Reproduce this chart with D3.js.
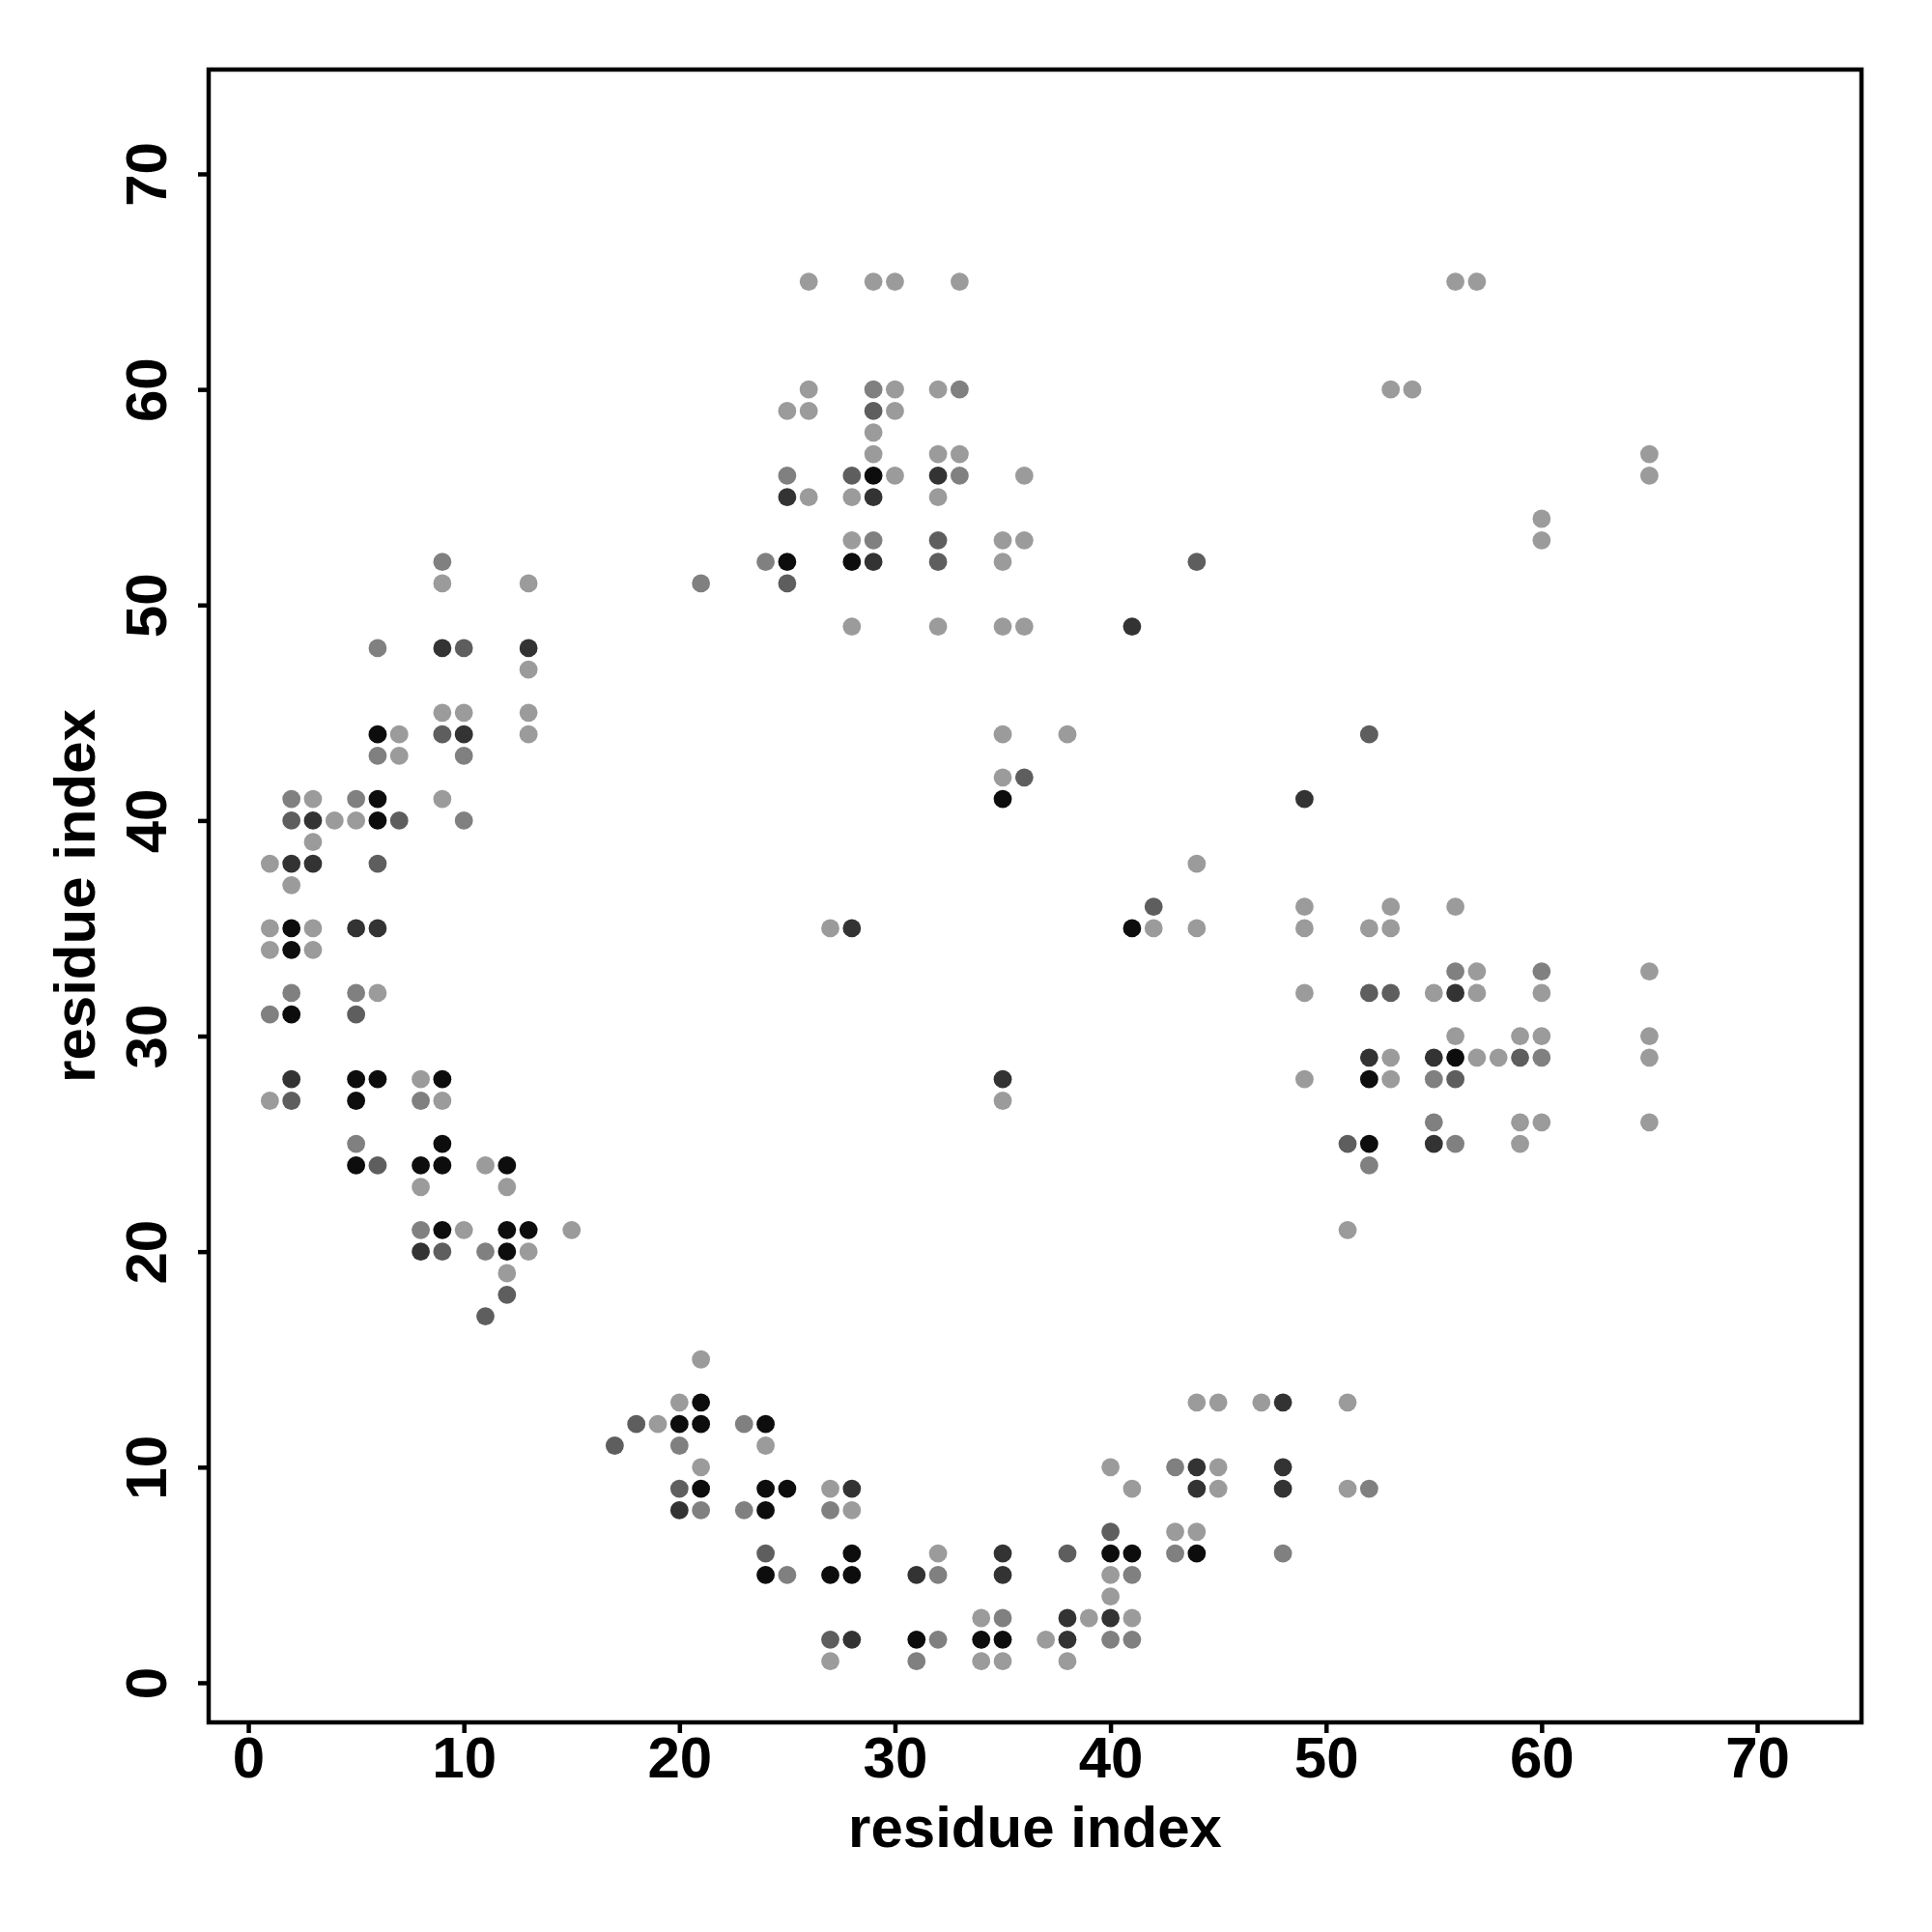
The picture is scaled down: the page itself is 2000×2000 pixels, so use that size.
<!DOCTYPE html>
<html>
<head>
<meta charset="utf-8">
<script src="https://cdn.jsdelivr.net/npm/d3@7"></script>
<style>
  body { margin: 0; background: #fff; }
  text { font-family: "Liberation Sans", Arial, Helvetica, sans-serif; font-weight: bold; }
</style>
</head>
<body>
<div id="chart"></div>
<script>
// contact pairs [i, j], grouped by shade (1 = darkest)
var level1 = [[6,44],[6,41],[6,40],[2,35],[2,34],[2,31],[5,28],[6,28],[9,28],[5,27],[9,25],[5,24],[8,24],[9,24],[12,24],[9,21],[12,21],[13,21],[12,20],
  [29,56],[25,52],[28,52],[35,41],[41,35],[56,29],[52,28],[52,25],
  [21,13],[20,12],[21,12],[24,12],[21,9],[24,9],[25,9],[24,8],[28,6],[40,6],[41,6],[44,6],[24,5],[27,5],[28,5],[31,2],[34,2],[35,2]];
var level2 = [[9,48],[13,48],[10,44],[3,40],[2,38],[3,38],[5,35],[6,35],[2,28],[8,20],
  [32,56],[25,55],[29,55],[29,52],[41,49],[49,41],[28,35],[35,28],[52,29],[55,29],[56,32],[55,25],
  [48,13],[44,10],[48,10],[28,9],[44,9],[48,9],[20,8],[35,6],[31,5],[35,5],[38,3],[40,3],[28,2],[38,2]];
var level3 = [[10,48],[9,44],[2,40],[7,40],[6,38],[5,31],[2,27],[6,24],[9,20],[12,18],[11,17],
  [28,56],[29,59],[32,53],[32,52],[25,51],[44,52],[52,44],[36,42],[42,36],[52,32],[53,32],[59,29],[56,28],[51,25],
  [18,12],[17,11],[20,9],[40,7],[24,6],[38,6],[27,2]];
var level4 = [[9,52],[6,48],[6,43],[10,43],[2,41],[5,41],[10,40],[2,32],[5,32],[1,31],[8,27],[5,25],[8,21],[11,20],
  [29,60],[33,60],[25,56],[33,56],[29,53],[24,52],[21,51],[56,33],[60,33],[60,29],[55,28],[55,26],[56,25],[52,24],
  [23,12],[20,11],[43,10],[52,9],[21,8],[23,8],[27,8],[43,6],[48,6],[25,5],[32,5],[41,5],[35,3],[32,2],[40,2],[41,2],[31,1]];
var level5 = [[9,51],[13,51],[13,47],[9,45],[10,45],[13,45],[7,44],[13,44],[7,43],[3,41],[9,41],[4,40],[5,40],[3,39],[1,38],[2,37],[1,35],[3,35],[1,34],[3,34],[6,32],[8,28],[1,27],[9,27],[11,24],[8,23],[12,23],[10,21],[15,21],[13,20],[12,19],
  [26,65],[29,65],[30,65],[33,65],[56,65],[57,65],[26,60],[30,60],[32,60],[53,60],[54,60],[25,59],[26,59],[30,59],[29,58],[29,57],[32,57],[33,57],[65,57],[30,56],[36,56],[65,56],[26,55],[28,55],[32,55],[60,54],[28,53],[35,53],[36,53],[60,53],[35,52],[28,49],[32,49],[35,49],[36,49],[35,44],[38,44],[35,42],[44,38],[49,36],[53,36],[56,36],[27,35],[42,35],[44,35],[49,35],[52,35],[53,35],[57,33],[65,33],[49,32],[55,32],[57,32],[60,32],[56,30],[59,30],[60,30],[65,30],[53,29],[57,29],[58,29],[65,29],[49,28],[53,28],[35,27],[59,26],[60,26],[65,26],[59,25],[51,21],
  [21,15],[20,13],[44,13],[45,13],[47,13],[51,13],[19,12],[24,11],[21,10],[40,10],[45,10],[27,9],[41,9],[45,9],[51,9],[28,8],[43,7],[44,7],[32,6],[40,5],[40,4],[34,3],[39,3],[41,3],[37,2],[27,1],[34,1],[35,1],[38,1]];

var levels = [1, 2, 3, 4, 5];
var ticks = [0, 10, 20, 30, 40, 50, 60, 70];
var axisTitle = "residue index";

var width = 2000, height = 2000;
var box = {left: 216, right: 1927, top: 72, bottom: 1783};

var svg = d3.select("#chart").append("svg")
    .attr("width", width)
    .attr("height", height)
    .style("background", "#fff");

var x = d3.scaleLinear().domain([-1.84, 74.84]).range([box.left, box.right]);
var y = d3.scaleLinear().domain([-1.84, 74.84]).range([box.bottom, box.top]);
var shade = d3.scaleOrdinal().domain(levels)
    .range(["#0d0d0d", "#333333", "#5e5e5e", "#808080", "#9b9b9b"]);

var contacts = [];
[level1, level2, level3, level4, level5].forEach(function (arr, k) {
    arr.forEach(function (p) { contacts.push({i: p[0], j: p[1], level: levels[k]}); });
});

svg.append("g").selectAll("circle")
    .data(contacts)
    .enter().append("circle")
    .attr("cx", function (d) { return x(d.i); })
    .attr("cy", function (d) { return y(d.j); })
    .attr("r", 9.4)
    .attr("fill", function (d) { return shade(d.level); });

// frame
svg.append("rect")
    .attr("x", box.left).attr("y", box.top)
    .attr("width", box.right - box.left)
    .attr("height", box.bottom - box.top)
    .attr("fill", "none")
    .attr("stroke", "#000")
    .attr("stroke-width", 4.5);

var xAxis = svg.append("g")
    .attr("transform", "translate(0," + box.bottom + ")")
    .call(d3.axisBottom(x).tickValues(ticks).tickSize(11).tickPadding(3));

var yAxis = svg.append("g")
    .attr("transform", "translate(" + box.left + ",0)")
    .call(d3.axisLeft(y).tickValues(ticks).tickSize(11));

[xAxis, yAxis].forEach(function (g) {
    g.select(".domain").remove();
    g.selectAll(".tick line").attr("stroke", "#000").attr("stroke-width", 4.5);
    g.selectAll(".tick text").attr("fill", "#000").style("font-size", "60px");
});

// y labels read bottom to top
yAxis.selectAll(".tick text")
    .attr("x", null).attr("dy", null)
    .attr("text-anchor", "middle")
    .attr("transform", "translate(-44,0) rotate(-90)");

svg.append("text")
    .attr("x", (box.left + box.right) / 2)
    .attr("y", 1912)
    .attr("text-anchor", "middle")
    .style("font-size", "60px")
    .text(axisTitle);

svg.append("text")
    .attr("transform", "translate(98," + (box.top + box.bottom) / 2 + ") rotate(-90)")
    .attr("text-anchor", "middle")
    .style("font-size", "60px")
    .text(axisTitle);
</script>
</body>
</html>
